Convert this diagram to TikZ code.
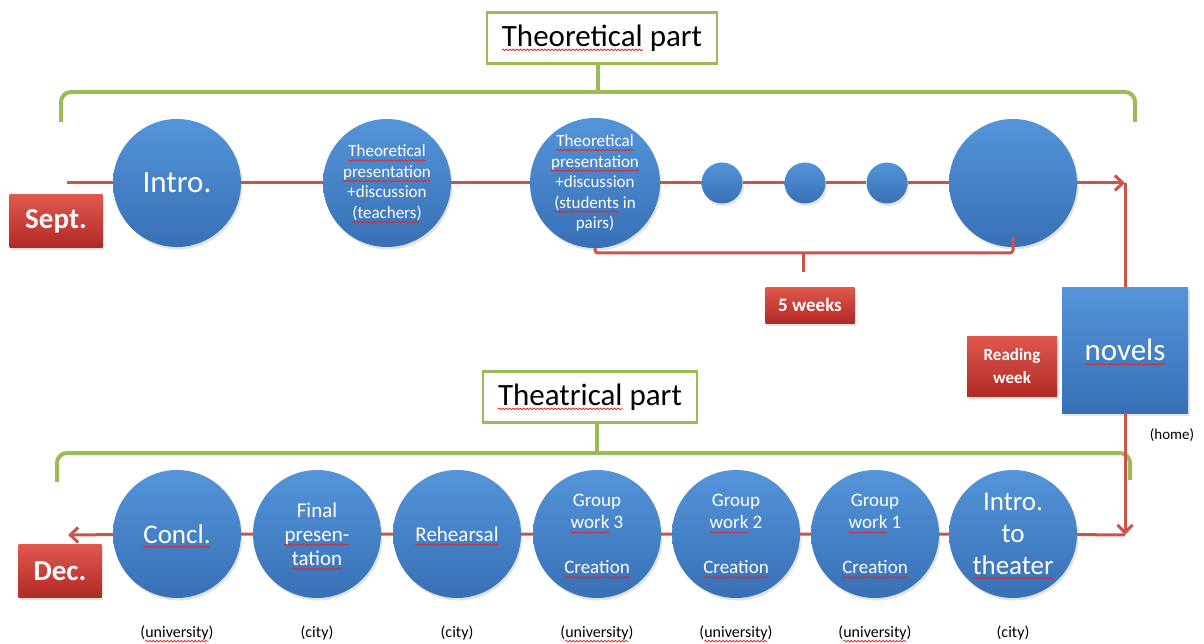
\documentclass[tikz,border=0pt]{standalone}
\usepackage{fontspec}
\setmainfont{Carlito}
\usetikzlibrary{arrows.meta,shadows,decorations.pathmorphing}
\definecolor{blueT}{RGB}{84,148,216}
\definecolor{blueB}{RGB}{56,112,182}
\definecolor{redT}{RGB}{224,88,78}
\definecolor{redB}{RGB}{176,42,38}
\definecolor{redL}{RGB}{204,82,76}
\definecolor{greenL}{RGB}{155,187,89}
\definecolor{squig}{RGB}{226,40,40}
\newsavebox\sqbox
\newcommand\sq[1]{\setbox\sqbox\hbox{#1}\leavevmode\rlap{\usebox\sqbox}\tikz[baseline=0pt]{\path[use as bounding box] (0pt,0pt) rectangle (\wd\sqbox,0pt);\draw[draw=squig,line width=0.8pt,decorate,decoration={snake,amplitude=0.8pt,segment length=3.5pt}] (0pt,-3.6pt) -- (\wd\sqbox,-3.6pt);}}
\begin{document}
\begin{tikzpicture}[x=1pt,y=-1pt,
  shad/.style={drop shadow={opacity=0.22,shadow xshift=1.5pt,shadow yshift=-2.5pt}},
  bigc/.style={circle,minimum size=128pt,inner sep=0pt,top color=blueT,bottom color=blueB,text=white,align=center,shad},
  smallc/.style={circle,minimum size=41pt,inner sep=0pt,top color=blueT,bottom color=blueB,shad},
  redbox/.style={rectangle,inner sep=0pt,top color=redT,bottom color=redB,text=white,align=center,shad},
  bluebox/.style={rectangle,inner sep=0pt,top color=blueT,bottom color=blueB,text=white,align=center,shad},
  titlebox/.style={rectangle,draw=greenL,line width=2.5pt,fill=white,inner sep=0pt,font=\fontsize{31}{37}\selectfont},
  greenline/.style={draw=greenL,line width=4pt,rounded corners=10pt},
  redline/.style={draw=redL,line width=3pt},
  tip/.style={-{Straight Barb[length=8pt,width=15pt,line width=3pt]}},
  place/.style={font=\fontsize{16}{19}\selectfont},
  fs17/.style={font=\fontsize{17}{20.5}\selectfont},
]
\useasboundingbox (0,0) rectangle (1204,644);

% ---------- titles and green brackets ----------
\node[titlebox,minimum width=230pt,minimum height=51pt] (tp) at (602,38) {\sq{Theoretical} part};
\node[titlebox,minimum width=214pt,minimum height=51pt] (thp) at (590,397) {\sq{Theatrical} part};

\draw[greenline] (61,122) -- (61,92) -- (1135,92) -- (1135,122);
\draw[greenline,rounded corners=0pt] (tp.south -| 598,0) -- (598,92);
\draw[greenline] (57,482) -- (57,453) -- (1130,453) -- (1130,480);
\draw[greenline,rounded corners=0pt] (thp.south -| 597,0) -- (597,453);

% ---------- top row ----------
\node[bigc,font=\fontsize{31}{37}\selectfont] (intro) at (177,183) {Intro.};
\node[bigc,fs17] (t1) at (387,183) {\sq{Theoretical}\\\sq{presentation}\\+discussion\\\sq{(teachers)}};
\node[bigc,fs17] (t2) at (595,183) {\sq{Theoretical}\\\sq{presentation}\\+discussion\\\sq{(students} in\\pairs)};
\node[smallc] (d1) at (722,183) {};
\node[smallc] (d2) at (805,183) {};
\node[smallc] (d3) at (887,183) {};
\node[bigc] (big) at (1013,183) {};

\node[redbox,minimum width=93pt,minimum height=53pt,font=\bfseries\fontsize{29}{34}\selectfont] (sept) at (56,221) {Sept.};
\node[redbox,minimum width=89pt,minimum height=36pt,font=\bfseries\fontsize{19}{22}\selectfont] (five) at (810,305) {5 \sq{weeks}};

\node[bluebox,minimum width=126pt,minimum height=126pt,font=\fontsize{31}{37}\selectfont] (novels) at (1125,350) {\sq{novels}};
\node[redbox,minimum width=90pt,minimum height=60pt,font=\bfseries\fontsize{17}{23}\selectfont] (reading) at (1012,366) {Reading\\\sq{week}};
\node[font=\fontsize{15}{18}\selectfont] (home) at (1172,435) {(home)};

\coordinate (sstart) at (67,183);
\coordinate (c1) at (1125,183);
\draw[redline,tip] (sstart) -- (intro) -- (t1) -- (t2) -- (d1) -- (d2) -- (d3) -- (big) -- (c1);
\draw[redline] (novels.north) -- (c1);

% brace under the 5 weeks
\coordinate (bl) at (595,253);
\coordinate (br) at (1013,253);
\coordinate (bm) at (803,253);
\coordinate (bt) at (803,272);
\draw[redline,rounded corners=3pt] (t2.south) -- (bl) -- (br) -- ([yshift=16pt]br);
\draw[redline] (bm) -- (bt);

% ---------- bottom row ----------
\node[bigc,font=\fontsize{27}{32}\selectfont] (itt) at (1013,534) {Intro.\\to\\\sq{theater}};
\node[bigc,font=\fontsize{19}{22.5}\selectfont] (gw1) at (875,534) {Group\\\sq{work} 1\\\mbox{}\\\sq{Creation}};
\node[bigc,font=\fontsize{19}{22.5}\selectfont] (gw2) at (736,534) {Group\\\sq{work} 2\\\mbox{}\\\sq{Creation}};
\node[bigc,font=\fontsize{19}{22.5}\selectfont] (gw3) at (597,534) {Group\\\sq{work} 3\\\mbox{}\\\sq{Creation}};
\node[bigc,font=\fontsize{21}{24}\selectfont] (reh) at (457,534) {\sq{Rehearsal}};
\node[bigc,font=\fontsize{21}{24}\selectfont] (final) at (317,534) {Final\\\sq{presen-}\\\sq{tation}};
\node[bigc,font=\fontsize{27}{32}\selectfont] (concl) at (177,534) {\sq{Concl.}};

\node[redbox,minimum width=83pt,minimum height=53pt,font=\bfseries\fontsize{29}{34}\selectfont] (dec) at (60,571) {\sq{Dec.}};

\coordinate (c2) at (1125,535);
\coordinate (dend) at (68,535);
\draw[redline,tip] (novels.south) -- (c2);
\draw[redline,tip] (c2) -- (itt) -- (gw1) -- (gw2) -- (gw3) -- (reh) -- (final) -- (concl) -- (dend);

\node[place] (l1) at (177,633) {(\sq{university})};
\node[place] (l2) at (317,633) {(city)};
\node[place] (l3) at (457,633) {(city)};
\node[place] (l4) at (597,633) {(\sq{university})};
\node[place] (l5) at (736,633) {(\sq{university})};
\node[place] (l6) at (875,633) {(\sq{university})};
\node[place] (l7) at (1013,633) {(city)};
\end{tikzpicture}
\end{document}
